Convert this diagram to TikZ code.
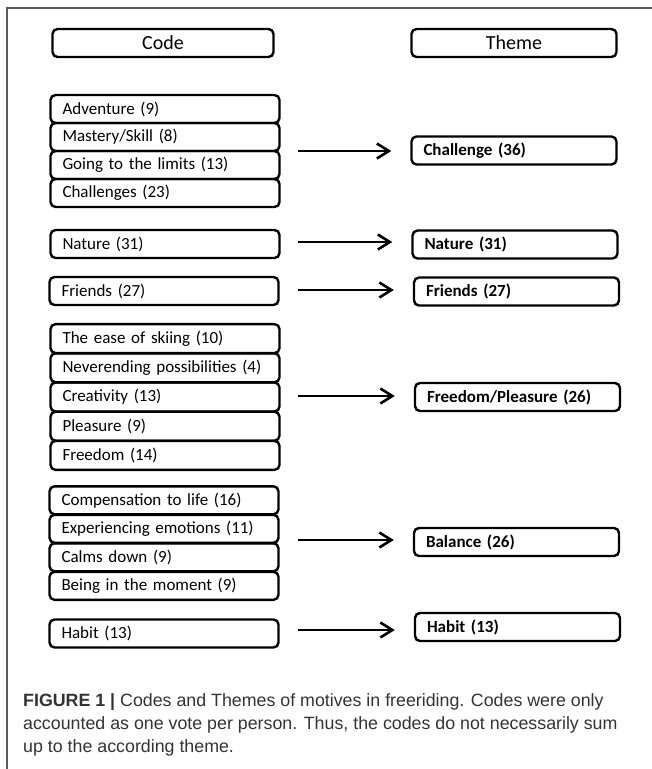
\documentclass[tikz,border=0pt]{standalone}
\usepackage{fontspec}
\setmainfont[WordSpace=0.55]{Carlito}
\newfontfamily\capfont{Liberation Sans}
\usetikzlibrary{arrows.meta}

\begin{document}
\begin{tikzpicture}[x=1pt,y=-1pt,
    box/.style={draw,rounded corners=5pt,line width=2.4pt,inner ysep=0pt,minimum height=28pt},
    codebox/.style={box,text width=205pt,inner xsep=12pt,align=left,font=\fontsize{17}{18}\selectfont},
    themebox/.style={box,text width=181pt,inner xsep=12pt,align=left,font=\fontsize{17}{18}\selectfont\bfseries},
    headbox/.style={box,minimum width=205pt,font=\fontsize{20}{24}\selectfont},
    flow/.style={line width=2.6pt,-{Straight Barb[length=12pt,width=15pt,line width=2.6pt]},shorten >=19pt}]
  \useasboundingbox (0,0) rectangle (652,769);
  % Draw frame
  \draw[black!65,line width=1.3pt] (7,769) |- (652,8);

  % Headers
  \node[headbox,minimum width=221pt] (codehead) at (163,43) {Code};
  \node[headbox] (themehead) at (514,43) {Theme};

  % Code boxes
  \node[codebox] (adv)   at (165,109) {Adventure (9)};
  \node[codebox] (mast)  at (165,137) {Mastery/Skill (8)};
  \node[codebox] (going) at (165,165) {Going to the limits (13)};
  \node[codebox] (chals) at (165,193) {Challenges (23)};

  \node[codebox] (nat)   at (165,244) {Nature (31)};
  \node[codebox] (fri)   at (164,291) {Friends (27)};

  \node[codebox,minimum height=29pt] (ease)  at (165,338.6) {The ease of skiing (10)};
  \node[codebox,minimum height=29pt] (never) at (165,367.8) {Neverending possibilities (4)};
  \node[codebox,minimum height=29pt] (creat) at (165,397)   {Creativity (13)};
  \node[codebox,minimum height=29pt] (pleas) at (165,426.2) {Pleasure (9)};
  \node[codebox,minimum height=29pt] (free)  at (165,455.4) {Freedom (14)};

  \node[codebox] (comp)  at (164,500.3) {Compensation to life (16)};
  \node[codebox] (exper) at (164,528.8) {Experiencing emotions (11)};
  \node[codebox] (calm)  at (164,557.3) {Calms down (9)};
  \node[codebox] (being) at (164,585.8) {Being in the moment (9)};

  \node[codebox] (hab)   at (164,633.5) {Habit (13)};

  % Theme boxes
  \node[themebox] (chal)    at (514,150.5) {Challenge (36)};
  \node[themebox] (tnat)    at (515,244.5) {Nature (31)};
  \node[themebox] (tfri)    at (516.5,291.5) {Friends (27)};
  \node[themebox] (tfree)   at (517.5,397) {Freedom/Pleasure (26)};
  \node[themebox] (bal)     at (516.5,542) {Balance (26)};
  \node[themebox] (thab)    at (517.5,627) {Habit (13)};

  % Arrows
  \coordinate (chalsrc) at (298,151);
  \coordinate (natsrc)  at (298,242);
  \coordinate (frisrc)  at (298,290);
  \coordinate (freesrc) at (298,396);
  \coordinate (balsrc)  at (298,540);
  \coordinate (habsrc)  at (298,630);
  \draw[flow] (chalsrc) -- (chalsrc -| chal.west);
  \draw[flow] (natsrc)  -- (natsrc -| tnat.west);
  \draw[flow] (frisrc)  -- (frisrc -| tfri.west);
  \draw[flow] (freesrc) -- (freesrc -| tfree.west);
  \draw[flow] (balsrc)  -- (balsrc -| bal.west);
  \draw[flow] (habsrc)  -- (habsrc -| thab.west);

  % Caption
  \node[anchor=north west,inner sep=0pt,align=left,text=black!80,
        font=\capfont\fontsize{17.8}{23}\selectfont] (caption) at (23,693)
    {\textbf{FIGURE 1 |} Codes and Themes of motives in freeriding. Codes were only\\
     accounted as one vote per person. Thus, the codes do not necessarily sum\\
     up to the according theme.};
\end{tikzpicture}
\end{document}
